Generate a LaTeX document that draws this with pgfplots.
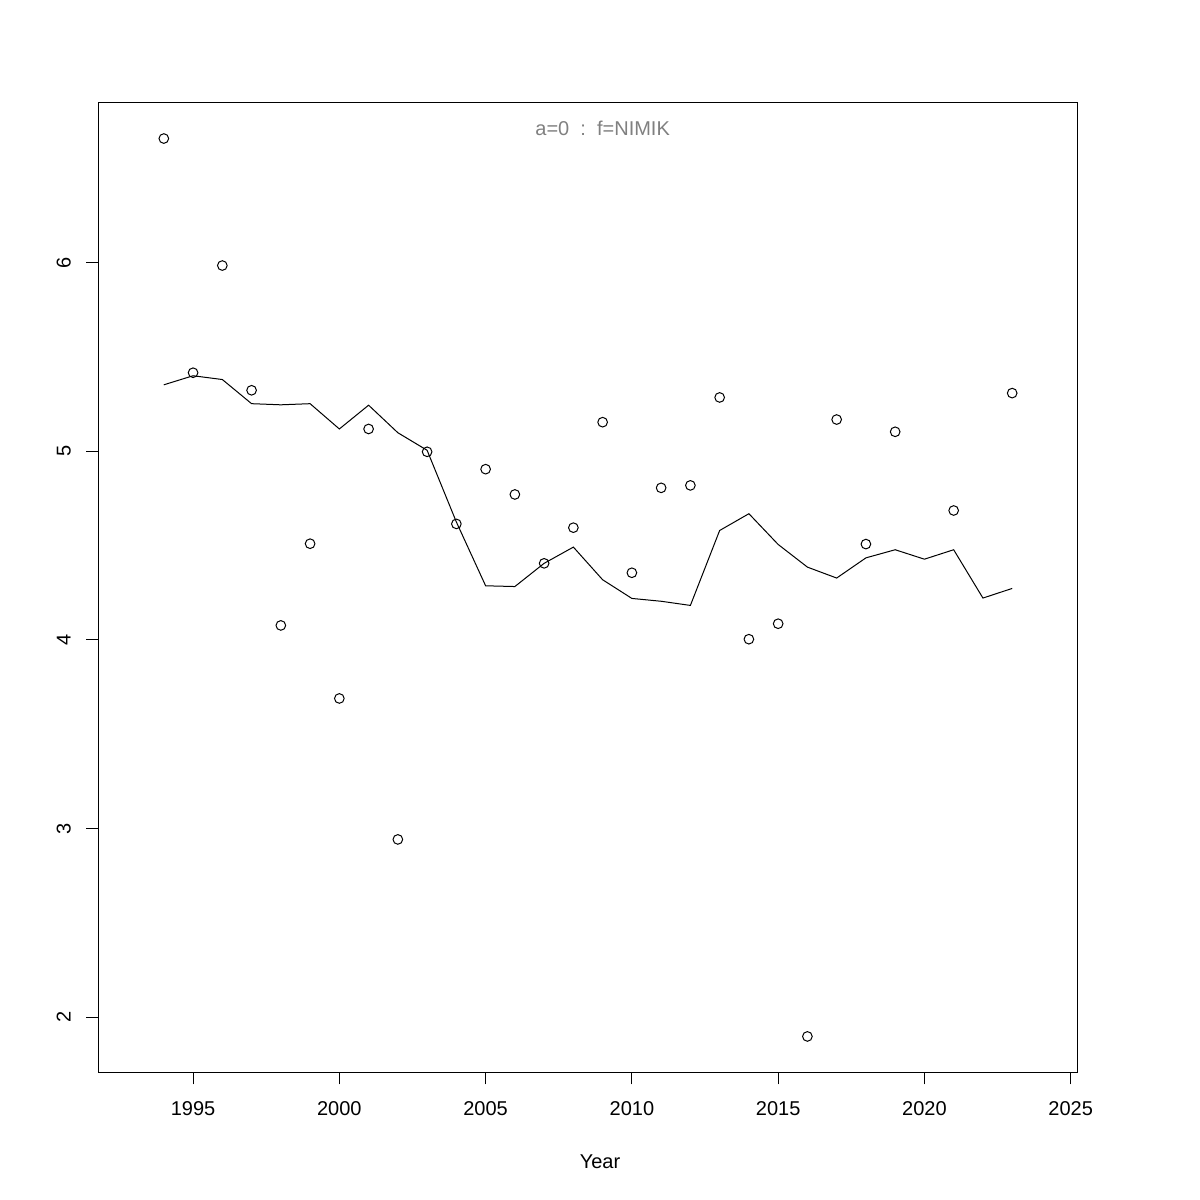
\documentclass[border=0pt]{standalone}
\usepackage{fontspec}
\setmainfont{Liberation Sans}
\usepackage{pgfplots}
\pgfplotsset{compat=1.18}
\pgfplotstableread{
year val
1994 6.657
1995 5.416
1996 5.984
1997 5.323
1998 4.077
1999 4.510
2000 3.690
2001 5.118
2002 2.943
2003 4.997
2004 4.615
2005 4.905
2006 4.771
2007 4.406
2008 4.595
2009 5.154
2010 4.356
2011 4.806
2012 4.819
2013 5.285
2014 4.004
2015 4.086
2016 1.899
2017 5.168
2018 4.508
2019 5.103
2021 4.686
2023 5.308
}\pts
\pgfplotstableread{
year val
1994 5.352
1995 5.400
1996 5.380
1997 5.252
1998 5.246
1999 5.252
2000 5.118
2001 5.244
2002 5.098
2003 5.005
2004 4.625
2005 4.287
2006 4.283
2007 4.406
2008 4.492
2009 4.319
2010 4.220
2011 4.205
2012 4.183
2013 4.580
2014 4.669
2015 4.506
2016 4.386
2017 4.328
2018 4.435
2019 4.478
2020 4.428
2021 4.478
2022 4.222
2023 4.273
}\smooth
\begin{document}
\fontsize{12}{14}\selectfont
\begin{tikzpicture}
\useasboundingbox (0,0) rectangle (720pt,720pt);
\begin{axis}[
  at={(58.98pt,76.62pt)}, anchor=south west,
  scale only axis, width=587.64pt, height=581.76pt,
  xmin=1991.76, xmax=2025.24, ymin=1.709, ymax=6.847,
  xtick={1995,2000,2005,2010,2015,2020,2025},
  ytick={2,3,4,5,6},
  tick pos=left,
  tick align=outside,
  major tick length=7.2pt,
  tick style={black, line width=0.6pt},
  axis line style={black, line width=0.6pt},
  /pgf/number format/assume math mode=true,
  x tick label style={/pgf/number format/1000 sep={}},
  every tick label/.append style={font=\fontsize{12}{14}\selectfont},
  xticklabel style={anchor=base, yshift=-19pt},
  yticklabel style={rotate=90, anchor=base, yshift=9.4pt},
  xlabel={Year},
  xlabel style={at={(axis description cs:0.5122,0)}, anchor=base, yshift=-57.8pt, font=\fontsize{12}{14}\selectfont},
  clip=false,
]
\addplot[only marks, mark=o, mark size=2.9pt, mark options={line width=0.6pt, black}] table[x=year, y=val] {\pts};
\addplot[black, line width=0.6pt, mark=none] table[x=year, y=val] {\smooth};
\node[anchor=base, text=black!50, font=\fontsize{12}{14}\selectfont] at (axis cs:2009,6.674) {a=0\ \ :\ \ f=NIMIK};
\end{axis}
\end{tikzpicture}
\end{document}
